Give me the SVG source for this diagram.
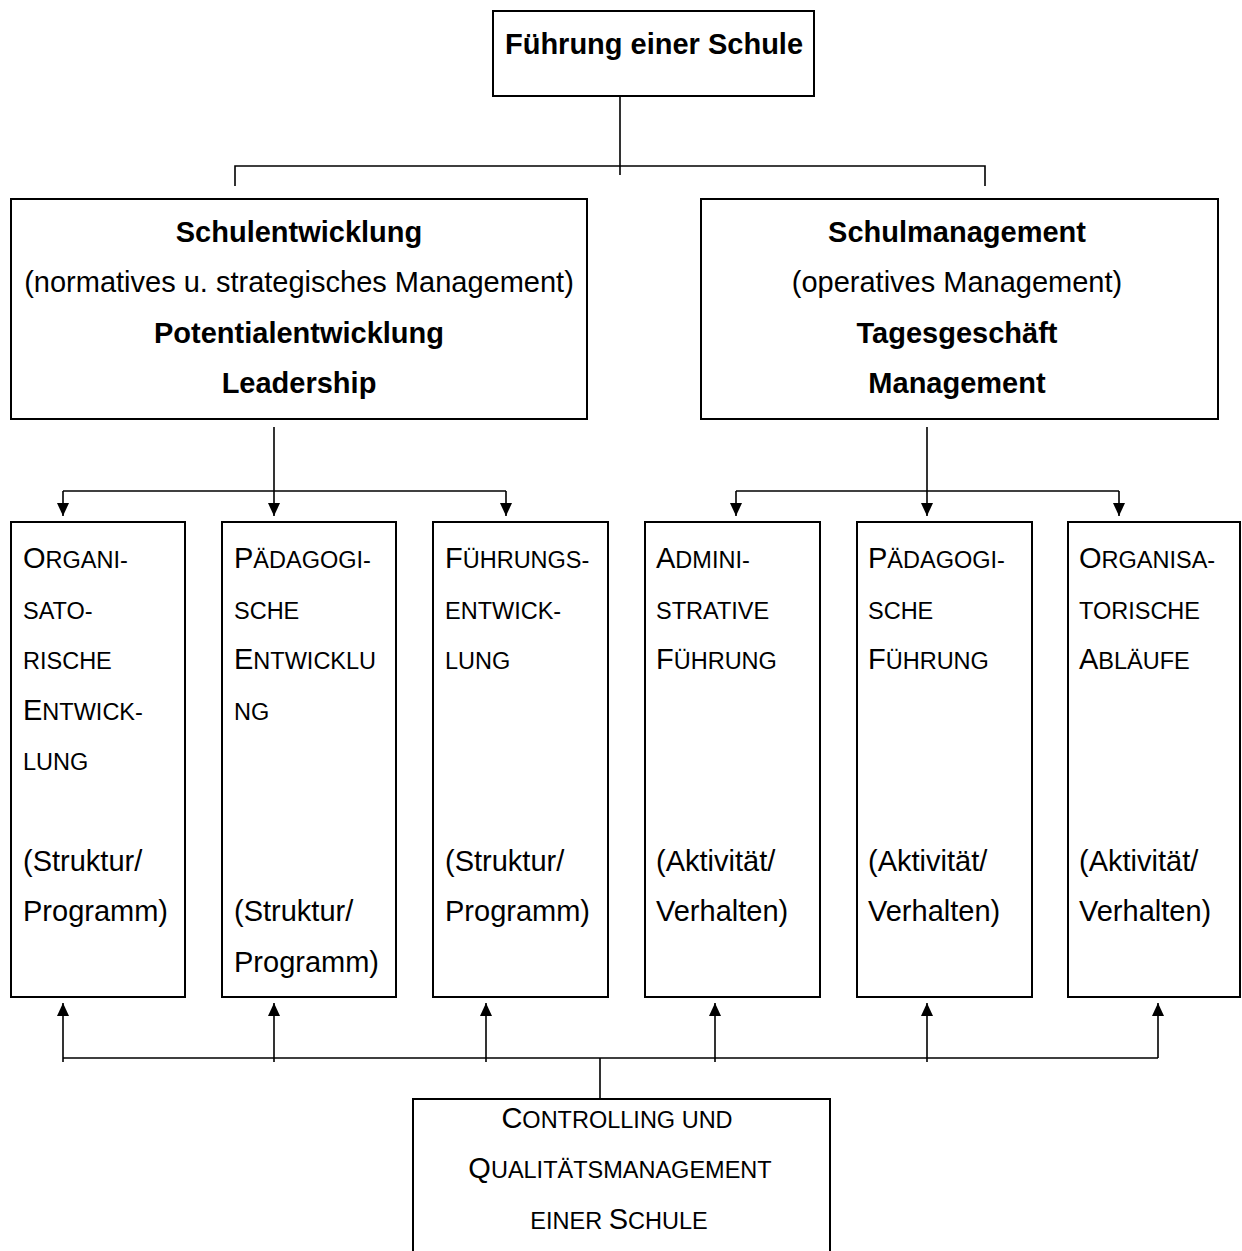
<svg xmlns="http://www.w3.org/2000/svg" width="1242" height="1251" viewBox="0 0 1242 1251">
<style>
text { font-family: "Liberation Sans", Arial, sans-serif; font-size: 29px; fill: #000; }
.b { font-weight: bold; }
.c { text-anchor: middle; }
.s { font-size: 23.5px; }
.box { fill: #fff; stroke: #000; stroke-width: 2; }
.ln { fill: none; stroke: #000; stroke-width: 1.6; }
</style>
<defs>
<marker id="ah" markerUnits="userSpaceOnUse" markerWidth="14" markerHeight="12" refX="13" refY="6" orient="auto">
<path d="M0,0 L13,6 L0,12 z" fill="#000"/>
</marker>
</defs>

<g id="connectors">
<path class="ln" d="M620,96 V175 M235,186 V166 H985 V186"/>
<path class="ln" d="M274,427 V516" marker-end="url(#ah)"/>
<path class="ln" d="M63,491 H506"/>
<path class="ln" d="M63,491 V516" marker-end="url(#ah)"/>
<path class="ln" d="M506,491 V516" marker-end="url(#ah)"/>
<path class="ln" d="M927,427 V516" marker-end="url(#ah)"/>
<path class="ln" d="M736,491 H1119"/>
<path class="ln" d="M736,491 V516" marker-end="url(#ah)"/>
<path class="ln" d="M1119,491 V516" marker-end="url(#ah)"/>
<path class="ln" d="M63,1058 H1158 M600,1058 V1098"/>
<path class="ln" d="M63,1062 V1003" marker-end="url(#ah)"/>
<path class="ln" d="M274,1062 V1003" marker-end="url(#ah)"/>
<path class="ln" d="M486,1062 V1003" marker-end="url(#ah)"/>
<path class="ln" d="M715,1062 V1003" marker-end="url(#ah)"/>
<path class="ln" d="M927,1062 V1003" marker-end="url(#ah)"/>
<path class="ln" d="M1158,1058 V1003" marker-end="url(#ah)"/>
</g>

<g id="fuehrung">
<rect class="box" x="493" y="11" width="321" height="85"/>
<text class="b c" x="654" y="54">Führung einer Schule</text>
</g>

<g id="schulentwicklung">
<rect class="box" x="11" y="199" width="576" height="220"/>
<text class="b c" x="299" y="242">Schulentwicklung</text>
<text class="c" x="299" y="292">(normatives u. strategisches Management)</text>
<text class="b c" x="299" y="343">Potentialentwicklung</text>
<text class="b c" x="299" y="393">Leadership</text>
</g>

<g id="schulmanagement">
<rect class="box" x="701" y="199" width="517" height="220"/>
<text class="b c" x="957" y="242">Schulmanagement</text>
<text class="c" x="957" y="292">(operatives Management)</text>
<text class="b c" x="957" y="343">Tagesgeschäft</text>
<text class="b c" x="957" y="393">Management</text>
</g>

<g id="org-entwicklung">
<rect class="box" x="11" y="522" width="174" height="475"/>
<text x="23" y="568">O<tspan class="s">RGANI-</tspan></text>
<text x="23" y="619"><tspan class="s">SATO-</tspan></text>
<text x="23" y="669"><tspan class="s">RISCHE</tspan></text>
<text x="23" y="720">E<tspan class="s">NTWICK-</tspan></text>
<text x="23" y="770"><tspan class="s">LUNG</tspan></text>
<text x="23" y="871">(Struktur/</text>
<text x="23" y="921">Programm)</text>
</g>

<g id="paed-entwicklung">
<rect class="box" x="222" y="522" width="174" height="475"/>
<text x="234" y="568">P<tspan class="s">ÄDAGOGI-</tspan></text>
<text x="234" y="619"><tspan class="s">SCHE</tspan></text>
<text x="234" y="669">E<tspan class="s">NTWICKLU</tspan></text>
<text x="234" y="720"><tspan class="s">NG</tspan></text>
<text x="234" y="921">(Struktur/</text>
<text x="234" y="972">Programm)</text>
</g>

<g id="fuehrungsentwicklung">
<rect class="box" x="433" y="522" width="175" height="475"/>
<text x="445" y="568">F<tspan class="s">ÜHRUNGS-</tspan></text>
<text x="445" y="619"><tspan class="s">ENTWICK-</tspan></text>
<text x="445" y="669"><tspan class="s">LUNG</tspan></text>
<text x="445" y="871">(Struktur/</text>
<text x="445" y="921">Programm)</text>
</g>

<g id="admin-fuehrung">
<rect class="box" x="645" y="522" width="175" height="475"/>
<text x="656" y="568">A<tspan class="s">DMINI-</tspan></text>
<text x="656" y="619"><tspan class="s">STRATIVE</tspan></text>
<text x="656" y="669">F<tspan class="s">ÜHRUNG</tspan></text>
<text x="656" y="871">(Aktivität/</text>
<text x="656" y="921">Verhalten)</text>
</g>

<g id="paed-fuehrung">
<rect class="box" x="857" y="522" width="175" height="475"/>
<text x="868" y="568">P<tspan class="s">ÄDAGOGI-</tspan></text>
<text x="868" y="619"><tspan class="s">SCHE</tspan></text>
<text x="868" y="669">F<tspan class="s">ÜHRUNG</tspan></text>
<text x="868" y="871">(Aktivität/</text>
<text x="868" y="921">Verhalten)</text>
</g>

<g id="org-ablaeufe">
<rect class="box" x="1068" y="522" width="172" height="475"/>
<text x="1079" y="568">O<tspan class="s">RGANISA-</tspan></text>
<text x="1079" y="619"><tspan class="s">TORISCHE</tspan></text>
<text x="1079" y="669">A<tspan class="s">BLÄUFE</tspan></text>
<text x="1079" y="871">(Aktivität/</text>
<text x="1079" y="921">Verhalten)</text>
</g>

<g id="controlling">
<rect class="box" x="413" y="1099" width="417" height="170"/>
<text class="c" x="617" y="1128">C<tspan class="s">ONTROLLING UND</tspan></text>
<text class="c" x="620" y="1178">Q<tspan class="s">UALITÄTSMANAGEMENT</tspan></text>
<text class="c" x="619" y="1229"><tspan class="s">EINER </tspan>S<tspan class="s">CHULE</tspan></text>
</g>
</svg>
